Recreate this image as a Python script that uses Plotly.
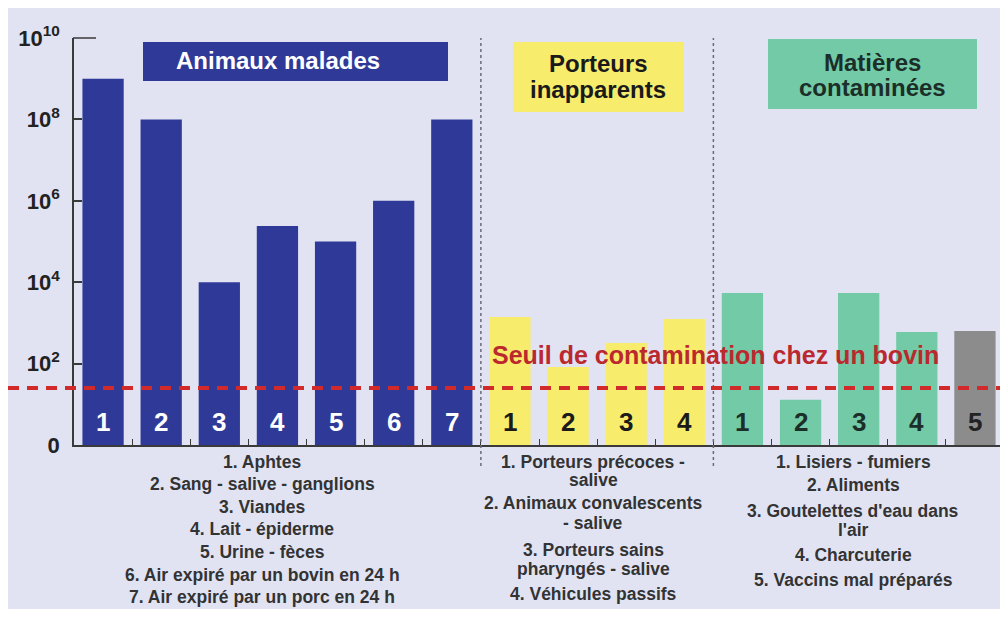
import math
import plotly.graph_objects as go

# ---------------- data ----------------
malades_labels = ["1", "2", "3", "4", "5", "6", "7"]
malades_values = [1e9, 1e8, 1e4, 2.4e5, 1e5, 1e6, 1e8]

porteurs_labels = ["1", "2", "3", "4"]
porteurs_values = [1400, 83, 320, 1250]

matieres_labels = ["1", "2", "3", "4", "5"]
matieres_values = [5400, 13, 5400, 600, 630]

seuil_value = 25

ytick_vals = [1, 1e2, 1e4, 1e6, 1e8, 1e10]
ytick_text = ["0", "10<sup>2</sup>", "10<sup>4</sup>", "10<sup>6</sup>", "10<sup>8</sup>", "10<sup>10</sup>"]

malades_legend = ["1. Aphtes", "2. Sang - salive - ganglions", "3. Viandes", "4. Lait - épiderme",
                  "5. Urine - fèces", "6. Air expiré par un bovin en 24 h", "7. Air expiré par un porc en 24 h"]
porteurs_legend = ["1. Porteurs précoces -", "salive", "2. Animaux convalescents", "- salive",
                   "3. Porteurs sains", "pharyngés - salive", "4. Véhicules passifs"]
matieres_legend = ["1. Lisiers - fumiers", "2. Aliments", "3. Goutelettes d'eau dans", "l'air",
                   "4. Charcuterie", "5. Vaccins mal préparés"]

# ---------------- styling ----------------
OFF = 8                      # page body margin of the html page
W, H = 1008 - OFF, 619 - OFF
PL, PR, PT, PB = 74, 1004, 38, 445   # plot area in page pixels
ML, MR, MT, MB = PL - OFF, W - (PR - OFF), PT - OFF, H - (PB - OFF)
PH = PB - PT
PW = PR - PL
BG = "#e1e3f3"
BLUE = "#2f3a98"
YELLOW = "#f8ec6c"
GREEN = "#72caa7"
GREY = "#8c8c8c"
RED = "#d22a2a"
FONT = "Liberation Sans, Arial, sans-serif"


def py(px):
    """page pixel y -> paper coordinate"""
    return (PB - px) / PH


def pxp(px):
    """page pixel x -> paper coordinate"""
    return (px - PL) / PW


labels = malades_labels + porteurs_labels + matieres_labels
values = malades_values + porteurs_values + matieres_values
colors = [BLUE] * len(malades_values) + [YELLOW] * len(porteurs_values) + [GREEN] * (len(matieres_values) - 1) + [GREY]
label_colors = ["white"] * len(malades_values) + ["#1a1a1a"] * len(porteurs_values) + ["#1c2e28"] * (len(matieres_values) - 1) + ["#222222"]
xs = list(range(len(values)))

fig = go.Figure()
fig.add_trace(go.Bar(x=xs, y=values, marker=dict(color=colors, line=dict(width=0)), width=0.71,
                     hoverinfo="skip", showlegend=False))

shapes = []
annotations = []


def text(x, y, t, size, color, xref="paper", yref="paper"):
    annotations.append(dict(x=x, y=y, xref=xref, yref=yref, text=t, showarrow=False,
                            xanchor="center", yanchor="middle",
                            font=dict(family=FONT, size=size, color=color)))


# background panel
shapes.append(dict(type="rect", xref="paper", yref="paper", x0=pxp(OFF), x1=pxp(1010), y0=py(609), y1=py(OFF),
                   fillcolor=BG, line=dict(width=0), layer="below"))

# top extension of y axis
shapes.append(dict(type="line", xref="paper", yref="paper", x0=pxp(73), x1=pxp(96), y0=1, y1=1,
                   line=dict(color="#3a3a3a", width=1.5)))

# dividers
n1 = len(malades_values)
n2 = n1 + len(porteurs_values)
for xd in [n1 - 0.5, n2 - 0.5]:
    shapes.append(dict(type="line", xref="x", yref="paper", x0=xd, x1=xd, y0=py(466), y1=py(38),
                       line=dict(color="#6a6a7a", width=1.5, dash="dot")))

# threshold line
shapes.append(dict(type="line", xref="paper", yref="y", x0=pxp(OFF), x1=1, y0=seuil_value, y1=seuil_value,
                   line=dict(color=RED, width=4, dash="11px,8px")))
annotations.append(dict(x=pxp(715), y=math.log10(seuil_value), xref="paper", yref="y", yshift=33,
                        text="<b>Seuil de contamination chez un bovin</b>", showarrow=False,
                        xanchor="center", yanchor="middle",
                        font=dict(family=FONT, size=25, color="#bb282e")))

# header boxes
shapes.append(dict(type="rect", xref="paper", yref="paper", x0=pxp(143), x1=pxp(448), y0=py(81), y1=py(42),
                   fillcolor=BLUE, line=dict(width=0)))
text(pxp(278), py(61), "<b>Animaux malades</b>", 24, "white")
shapes.append(dict(type="rect", xref="paper", yref="paper", x0=pxp(513), x1=pxp(684), y0=py(112), y1=py(42),
                   fillcolor=YELLOW, line=dict(width=0)))
text(pxp(598), py(64), "<b>Porteurs</b>", 24, "#1a1a1a")
text(pxp(598), py(89), "<b>inapparents</b>", 24, "#1a1a1a")
shapes.append(dict(type="rect", xref="paper", yref="paper", x0=pxp(768), x1=pxp(977), y0=py(109), y1=py(39),
                   fillcolor=GREEN, line=dict(width=0)))
text(pxp(872), py(62), "<b>Matières</b>", 24, "#1c2e28")
text(pxp(872), py(87), "<b>contaminées</b>", 24, "#1c2e28")

# number labels in bars
for xi, lab, lc in zip(xs, labels, label_colors):
    text(xi, py(422), "<b>" + lab + "</b>", 26, lc, xref="x")


# bottom legends
def add_lines(lines, cx, ys):
    for t, yy in zip(lines, ys):
        text(pxp(cx), py(yy), "<b>" + t + "</b>", 17.5, "#333333")


add_lines(malades_legend, 262, [462, 484, 507, 529, 552, 575, 597])
add_lines(porteurs_legend, 593, [462, 480, 503, 523, 550, 569, 594])
add_lines(matieres_legend, 853, [462, 485, 511, 530, 555, 580])

fig.update_layout(
    width=W, height=H,
    margin=dict(l=ML, r=MR, t=MT, b=MB, pad=0),
    paper_bgcolor="white",
    plot_bgcolor="rgba(0,0,0,0)",
    shapes=shapes,
    annotations=annotations,
    xaxis=dict(range=[-0.5, len(values) - 0.5], tickvals=[i + 0.5 for i in range(len(values) - 1)],
               showticklabels=False, ticks="inside", ticklen=6, tickcolor="#3a3a3a", tickwidth=1.2,
               showgrid=False, zeroline=False, showline=True, linecolor="#3a3a3a", linewidth=1.5,
               fixedrange=True),
    yaxis=dict(type="log", range=[0, 10], tickvals=ytick_vals, ticktext=ytick_text,
               ticks="inside", ticklen=8, tickcolor="#3a3a3a", tickwidth=1.5,
               tickfont=dict(family=FONT, size=22, color="#222222", weight="bold"),
               ticklabelstandoff=8,
               showgrid=False, zeroline=False, showline=True, linecolor="#3a3a3a", linewidth=1.5,
               fixedrange=True),
)

fig.write_html("out.html")
